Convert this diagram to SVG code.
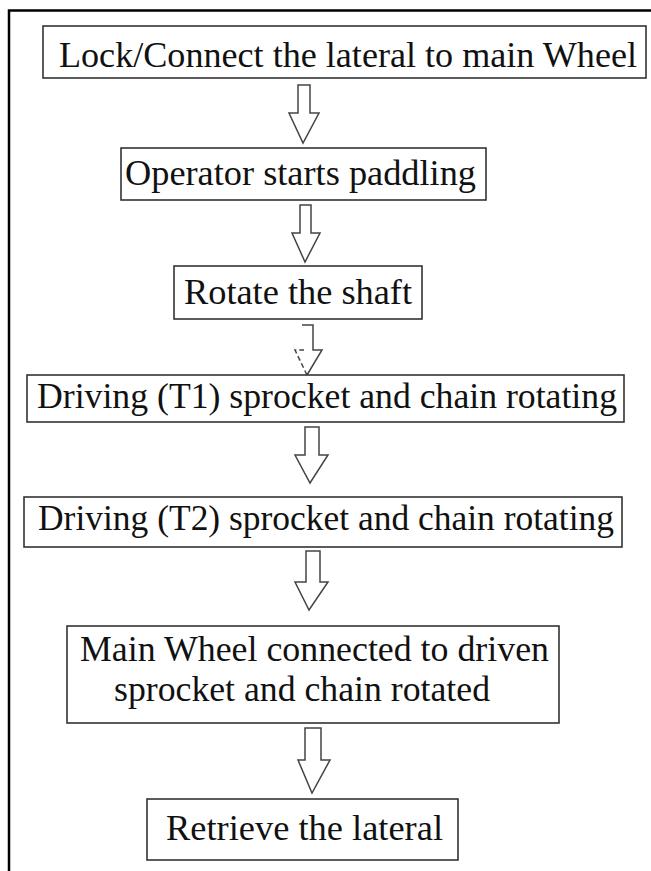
<svg xmlns="http://www.w3.org/2000/svg" width="651" height="871" viewBox="0 0 651 871">
<style>
.box{fill:#fff;stroke:#333;stroke-width:1.6}
.t{font-family:"Liberation Serif","Tinos","Times New Roman","DejaVu Serif",serif;font-size:35px;fill:#111}
.arr{fill:#fff;stroke:#444;stroke-width:1.5;stroke-linejoin:miter}
.frame{fill:none;stroke:#000;stroke-width:2.5}
</style>
<rect width="651" height="871" fill="#fff"/>
<path class="frame" d="M9,871 V10.5 H651"/>
<g id="connectors">
<path class="arr" d="M298,85 H310 V113 H319 L303,143 L289,113 H298 Z"/>
<path class="arr" d="M300,205 H311 V233 H320 L305,262 L292,233 H300 Z"/>
<path fill="none" stroke="#444" stroke-width="1.5" d="M302,325 H313 V350 H322 L307,375"/>
<path fill="none" stroke="#444" stroke-width="1.5" stroke-dasharray="5,3" d="M307,375 L295,350 H304"/>
<path class="arr" d="M305,427 H319 V455 H328 L310,483 L295,455 H305 Z"/>
<path class="arr" d="M306,551 H320 V582 H328 L309,610 L295,582 H306 Z"/>
<path class="arr" d="M305,728 H321 V760 H330 L312,793 L298,760 H305 Z"/>
</g>
<g id="n1">
<rect class="box" x="43" y="26" width="603" height="52"/>
<text class="t" x="59" y="67" textLength="578" lengthAdjust="spacingAndGlyphs">Lock/Connect the lateral to main Wheel</text>
</g>
<g id="n2">
<rect class="box" x="121" y="148" width="365" height="52"/>
<text class="t" x="125" y="185" textLength="351" lengthAdjust="spacingAndGlyphs">Operator starts paddling</text>
</g>
<g id="n3">
<rect class="box" x="174" y="266" width="248" height="53"/>
<text class="t" x="184" y="304" textLength="228" lengthAdjust="spacingAndGlyphs">Rotate the shaft</text>
</g>
<g id="n4">
<rect class="box" x="27" y="375" width="597" height="47"/>
<text class="t" x="37" y="408" textLength="580" lengthAdjust="spacingAndGlyphs">Driving (T1) sprocket and chain rotating</text>
</g>
<g id="n5">
<rect class="box" x="24" y="497" width="598" height="50"/>
<text class="t" x="38" y="530" textLength="576" lengthAdjust="spacingAndGlyphs">Driving (T2) sprocket and chain rotating</text>
</g>
<g id="n6">
<rect class="box" x="67" y="626" width="492" height="97"/>
<text class="t" x="80" y="661" textLength="469" lengthAdjust="spacingAndGlyphs">Main Wheel connected to driven</text>
<text class="t" x="114" y="701" textLength="376" lengthAdjust="spacingAndGlyphs">sprocket and chain rotated</text>
</g>
<g id="n7">
<rect class="box" x="147" y="799" width="311" height="61"/>
<text class="t" x="166" y="840" textLength="277" lengthAdjust="spacingAndGlyphs">Retrieve the lateral</text>
</g>
</svg>
